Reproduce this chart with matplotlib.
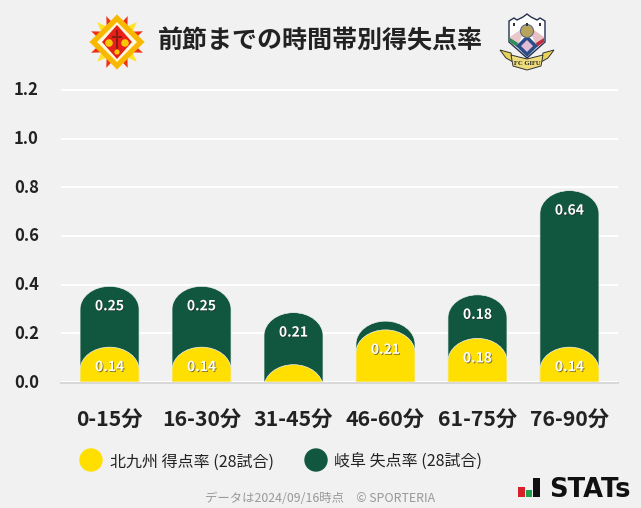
import numpy as np
import matplotlib
matplotlib.use('Agg')
import matplotlib.pyplot as plt
import matplotlib.patheffects as pe
from matplotlib.path import Path
from matplotlib.patches import PathPatch, Polygon, Circle, Rectangle
from matplotlib.transforms import ScaledTranslation

plt.rcParams['font.family'] = ['Noto Sans CJK JP', 'DejaVu Sans']

W, H = 641, 508
BG = '#f1f1f1'
YELLOW = '#ffdf00'
GREEN = '#115740'

periods = ['0-15分', '16-30分', '31-45分', '46-60分', '61-75分', '76-90分']
kita_rate = np.array([0.143, 0.143, 0.071, 0.214, 0.179, 0.143])
gifu_rate = np.array([0.25, 0.25, 0.214, 0.036, 0.179, 0.643])
y_ticks = [0.0, 0.2, 0.4, 0.6, 0.8, 1.0, 1.2]
kita_label = ['0.14', '0.14', '', '0.21', '0.18', '0.14']
gifu_label = ['0.25', '0.25', '0.21', '', '0.18', '0.64']

title = '前節までの時間帯別得失点率'
legend_names = ['北九州 得点率 (28試合)', '岐阜 失点率 (28試合)']
footer = 'データは2024/09/16時点　© SPORTERIA'

fig = plt.figure(figsize=(W / 100, H / 100), dpi=100)
fig.patch.set_facecolor(BG)

px_per_unit = 243.5
ax = fig.add_axes([61 / W, (H - 382) / H, 557 / W, 1.25 * px_per_unit / H])
ax.set_facecolor(BG)
for s in ['top', 'left', 'right']:
    ax.spines[s].set_visible(False)
ax.spines['bottom'].set_color('#d8d8d8')
ax.spines['bottom'].set_linewidth(1.44)
ax.spines['bottom'].set_position(('outward', 0.72))

ax.set_xlim(-0.528, 5.528)
ax.set_ylim(0, 1.25)
ax.set_yticks(y_ticks)
ax.set_yticklabels(['%.1f' % v for v in y_ticks], fontsize=12, fontweight='bold', color='#222222')
ax.set_xticks(range(len(periods)))
ax.set_xticklabels(periods, fontsize=15.3, fontweight='bold', color='#222222')
ax.tick_params(axis='y', length=0, pad=16)
ax.tick_params(axis='x', length=0, pad=19.5)
ax.grid(axis='y', color='white', lw=1.44, zorder=1)
ax.set_axisbelow(True)
# y labels sit a little above their gridlines
for lab in ax.get_yticklabels():
    lab.set_transform(lab.get_transform() + ScaledTranslation(0, 1.5 / 100, fig.dpi_scale_trans))


def round_top(rect, color, z):
    # swap a plain bar for one with an elliptical top
    x0, w, h = rect.get_x(), rect.get_width(), rect.get_height()
    rx, ry, k = w / 2, 23 / px_per_unit, 0.5523
    xc, top = x0 + rx, h
    verts = [(x0, 0), (x0, top - ry),
             (x0, top - ry + k * ry), (xc - k * rx, top), (xc, top),
             (xc + k * rx, top), (x0 + w, top - ry + k * ry), (x0 + w, top - ry),
             (x0 + w, 0), (x0, 0)]
    codes = [Path.MOVETO, Path.LINETO, Path.CURVE4, Path.CURVE4, Path.CURVE4,
             Path.CURVE4, Path.CURVE4, Path.CURVE4, Path.LINETO, Path.CLOSEPOLY]
    rect.set_visible(False)
    ax.add_patch(PathPatch(Path(verts, codes), facecolor=color, edgecolor='#f4f4f0', lw=0.5, zorder=z))


x = np.arange(len(periods))
green_bars = ax.bar(x, kita_rate + gifu_rate, width=0.642, color=GREEN)
yellow_bars = ax.bar(x, kita_rate, width=0.642, color=YELLOW)
for r in green_bars:
    round_top(r, GREEN, 3)
for r in yellow_bars:
    round_top(r, YELLOW, 4)

shadow = [pe.withSimplePatchShadow(offset=(0.6, -0.6), shadow_rgbFace='#222222', alpha=0.6)]
for i in x:
    ax.annotate(gifu_label[i], (i, kita_rate[i] + gifu_rate[i]), xytext=(0, -20), textcoords='offset pixels',
                ha='center', va='center', color='white', fontsize=10, fontweight='bold', path_effects=shadow, zorder=5)
    ax.annotate(kita_label[i], (i, kita_rate[i]), xytext=(0, -20), textcoords='offset pixels',
                ha='center', va='center', color='white', fontsize=10, fontweight='bold', path_effects=shadow, zorder=5)

# everything around the chart, in pixel coordinates
ov = fig.add_axes([0, 0, 1, 1], zorder=10)
ov.set_xlim(0, W)
ov.set_ylim(H, 0)
ov.axis('off')

ov.text(320.5, 41, title, ha='center', va='center', fontsize=18, fontweight='bold', color='#222222')

# legend
ov.add_patch(Circle((91, 460), 11, color=YELLOW))
ov.add_patch(Circle((316, 460), 11, color=GREEN))
ov.text(110, 462, legend_names[0], ha='left', va='center', fontsize=11.5, color='#222222')
ov.text(334, 462, legend_names[1], ha='left', va='center', fontsize=11.5, color='#222222')
ov.text(320.5, 498.5, footer, ha='center', va='center', fontsize=8.9, color='#999999')

# left emblem
cx, cy = 117, 42
ang = np.deg2rad(np.arange(0, 360, 22.5))
for i, a in enumerate(ang):
    tip = (cx + 28 * np.cos(a), cy + 28 * np.sin(a))
    b1 = (cx + 15 * np.cos(a - 0.36), cy + 15 * np.sin(a - 0.36))
    b2 = (cx + 15 * np.cos(a + 0.36), cy + 15 * np.sin(a + 0.36))
    ov.add_patch(Polygon([tip, b1, b2], color='#ee3015' if i % 2 else '#ffe32a', lw=0))
ov.add_patch(Polygon([(cx - 27.5, cy), (cx, cy - 27.5), (cx + 27.5, cy), (cx, cy + 27.5)], color='#f9b800', lw=0))
ov.add_patch(Polygon([(cx - 20, cy), (cx, cy - 20), (cx + 20, cy), (cx, cy + 20)], color='#fff8e0', lw=0))
ov.add_patch(Polygon([(cx - 15, cy), (cx, cy - 17), (cx + 15, cy), (cx, cy + 17)], color='#e8201a', lw=0))
ov.add_patch(Circle((cx - 8, cy + 1), 3.8, color='#f9c800', lw=0))
ov.add_patch(Circle((cx + 8, cy + 1), 3.8, color='#f9c800', lw=0))
ov.add_patch(Circle((cx, cy + 10), 2.6, color='#f9c800', lw=0))
ov.add_patch(Rectangle((cx - 1, cy - 12), 2, 19, color='#8c1a10', lw=0))
ov.add_patch(Rectangle((cx - 5, cy - 6), 10, 1.6, color='#8c1a10', lw=0))

# right emblem
shield = [(509, 21), (514, 18), (517, 20), (523, 17), (527, 14), (531, 17), (537, 20), (540, 18), (545, 21),
          (545, 42), (527, 58), (509, 42)]
ov.add_patch(Polygon(shield, facecolor='white', edgecolor='#25304f', lw=1))
ov.add_patch(Polygon([(510, 42), (510, 37), (520, 30), (522, 36), (517, 47)], color='#e8c8c8', lw=0))
ov.add_patch(Polygon([(544, 42), (544, 37), (534, 30), (532, 36), (537, 47)], color='#e8c0c8', lw=0))
ov.add_patch(Polygon([(510, 42), (510, 38), (518, 43), (517, 47)], color='#2f8a55', lw=0))
ov.add_patch(Polygon([(544, 42), (544, 38), (536, 43), (537, 47)], color='#c02c40', lw=0))
ov.add_patch(Polygon([(527, 35), (538, 46), (527, 57), (516, 46)], color='#2b4c86', lw=0))
ov.add_patch(Polygon([(527, 40), (533, 46), (527, 52), (521, 46)], color='#e2bcd6', lw=0))
ov.add_patch(Circle((527, 31), 6.5, color='#b9a25a', ec='#5b6d8c', lw=0.8))
for dx in [514, 527, 540]:
    ov.add_patch(Rectangle((dx - 1, 23), 2, 3, color='#333333', lw=0))
for side in [1, -1]:
    wing = [(527 + side * 27, 50), (527 + side * 16, 53), (527 + side * 14, 62), (527 + side * 21, 58)]
    ov.add_patch(Polygon(wing, facecolor='#e9d25a', edgecolor='#333333', lw=0.7))
ribbon = [(511, 55), (527, 59), (543, 55), (541, 66), (527, 70), (513, 66)]
ov.add_patch(Polygon(ribbon, facecolor='#efdc7c', edgecolor='#333333', lw=0.7))
ov.text(527, 63.5, 'FC GIFU', ha='center', va='center', fontsize=4.8, fontweight='bold', color='#222222',
        family='Liberation Serif')

# STATs logo
ov.add_patch(Rectangle((518, 486.5), 6.5, 10.5, color='#d8202a', lw=0))
ov.add_patch(Rectangle((525.7, 490), 6.3, 7, color='#1fa04c', lw=0))
ov.add_patch(Rectangle((533.3, 478), 6.7, 19, color='#111111', lw=0))
ov.text(549, 497, 'STATs', ha='left', va='baseline', fontsize=18.5, fontweight='bold', color='#111111',
        family='DejaVu Sans')

fig.savefig('out.png', dpi=100, facecolor=BG)
